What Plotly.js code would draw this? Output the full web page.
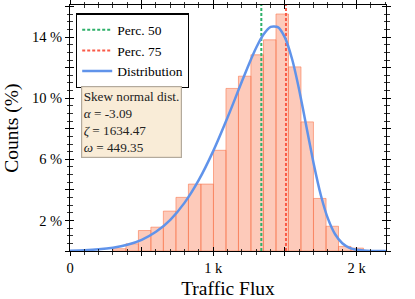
<!DOCTYPE html>
<html>
<head>
<meta charset="utf-8">
<script src="https://cdn.plot.ly/plotly-3.0.1.min.js"></script>
<style>html,body{margin:0;padding:0;background:#fff;}#chart{width:415px;height:299px;}</style>
</head>
<body>
<div id="chart"></div>
<script>
// Histogram (density scaled to %), bin centers and heights
const binCenters = [346, 434, 521, 608, 695, 783, 870, 957, 1045, 1132, 1219, 1306, 1394, 1481, 1568, 1655, 1743, 1830, 1917, 2004];
const binHeights = [0.15, 0.47, 1.34, 1.56, 2.61, 3.51, 4.38, 4.38, 6.59, 10.64, 11.44, 12.84, 13.82, 15.51, 12.05, 8.45, 3.44, 1.62, 0.3, 0.19];
const binWidth = 87.3;

// Fitted distribution curve points
const curveX = [0, 100, 200, 300, 400, 500, 600, 700, 800, 900, 1000, 1100, 1150, 1200, 1250, 1300, 1350, 1400, 1450, 1500, 1550, 1600, 1650, 1700, 1750, 1800, 1850, 1900, 1950, 2000, 2050, 2100, 2205];
const curveY = [0.024, 0.052, 0.109, 0.216, 0.408, 0.733, 1.255, 2.043, 3.166, 4.668, 6.552, 8.750, 9.925, 11.110, 12.262, 13.316, 14.165, 14.668, 14.649, 13.964, 12.549, 10.510, 8.120, 5.730, 3.667, 2.115, 1.095, 0.506, 0.208, 0.076, 0.025, 0.007, 0.001];

// Percentiles
const percNames = ['Perc. 50', 'Perc. 75'];
const percValues = [1335, 1507];

// Fit parameters
const paramTitle = 'Skew normal dist.';
const paramSymbols = ['α', 'ζ', 'ω'];
const paramValues = ['-3.09', '1634.47', '449.35'];

// Ticks
const xTickVals = [0, 500, 1000, 1500, 2000];
const xTickText = ['0', '', '1 k', '', '2 k'];
const yTickVals = [0, 2, 4, 6, 8, 10, 12, 14, 16];
const yTickText = ['', '2 %', '', '6 %', '', '10 %', '', '14 %', ''];

const xRange = [0, 2205];
const yRange = [0, 16.1];

const FONT = 'Liberation Serif';

const traces = [
  {
    type: 'bar', x: binCenters, y: binHeights, width: binWidth,
    marker: {color: 'rgba(250,128,90,0.42)', line: {color: 'rgba(248,120,80,0.6)', width: 1}},
    showlegend: false, hoverinfo: 'skip'
  },
  {
    type: 'scatter', mode: 'lines', name: percNames[0],
    x: [percValues[0], percValues[0]], y: yRange,
    line: {color: '#2eb06a', width: 2, dash: '3px,2px'}
  },
  {
    type: 'scatter', mode: 'lines', name: percNames[1],
    x: [percValues[1], percValues[1]], y: yRange,
    line: {color: '#fa5a48', width: 2, dash: '3px,2px'}
  },
  {
    type: 'scatter', mode: 'lines', name: 'Distribution',
    x: curveX, y: curveY,
    line: {color: '#6093ea', width: 2.5, shape: 'spline', smoothing: 0.6}
  },
  { type: 'scatter', mode: 'none', x: [], y: [], xaxis: 'x2', yaxis: 'y2', showlegend: false, hoverinfo: 'skip' }
];

const tickCommon = {tickcolor: '#000', tickwidth: 1, showgrid: false, zeroline: false};

const layout = {
  width: 415, height: 299,
  margin: {l: 70, r: 29, t: 5, b: 48},
  paper_bgcolor: '#fff', plot_bgcolor: '#fff',
  font: {family: FONT, color: '#000', size: 14},
  bargap: 0,
  showlegend: true,
  legend: {
    x: 0.019, y: 0.966, xanchor: 'left', yanchor: 'top',
    bgcolor: '#fff', bordercolor: '#000', borderwidth: 1.2,
    font: {family: FONT, size: 13.5, color: '#000'},
    tracegroupgap: 0, itemwidth: 30
  },
  xaxis: Object.assign({}, tickCommon, {
    range: xRange, tickmode: 'array', tickvals: xTickVals, ticktext: xTickText,
    ticks: 'outside', ticklen: 4, mirror: 'ticks', showline: true, linecolor: '#000', linewidth: 1,
    minor: {tickmode: 'linear', tick0: 0, dtick: 100, ticks: 'outside', ticklen: 2.5, tickcolor: '#000', tickwidth: 0.8},
    tickfont: {family: FONT, size: 14.5},
    title: {text: 'Traffic Flux', font: {family: FONT, size: 19.5}, standoff: 6}
  }),
  yaxis: Object.assign({}, tickCommon, {
    range: yRange, tickmode: 'array', tickvals: yTickVals, ticktext: yTickText,
    ticks: 'outside', ticklen: 4, mirror: 'ticks', showline: true, linecolor: '#000', linewidth: 1,
    minor: {tickmode: 'linear', tick0: 0, dtick: 0.5, ticks: 'outside', ticklen: 2.5, tickcolor: '#000', tickwidth: 0.8},
    tickfont: {family: FONT, size: 14.5}
  }),
  xaxis2: Object.assign({}, tickCommon, {
    overlaying: 'x', anchor: 'y2', side: 'bottom',
    range: xRange, tickmode: 'array', tickvals: xTickVals, showticklabels: false,
    ticks: 'inside', ticklen: 4, mirror: 'ticks', showline: false,
    minor: {tickmode: 'linear', tick0: 0, dtick: 100, ticks: 'inside', ticklen: 2.5, tickcolor: '#000', tickwidth: 0.8}
  }),
  yaxis2: Object.assign({}, tickCommon, {
    overlaying: 'y', anchor: 'x2', side: 'left',
    range: yRange, tickmode: 'array', tickvals: yTickVals, showticklabels: false,
    ticks: 'inside', ticklen: 4, mirror: 'ticks', showline: false,
    minor: {tickmode: 'linear', tick0: 0, dtick: 0.5, ticks: 'inside', ticklen: 2.5, tickcolor: '#000', tickwidth: 0.8}
  }),
  annotations: [
    {
      xref: 'paper', yref: 'paper', x: 0.035, y: 0.669, xanchor: 'left', yanchor: 'top',
      align: 'left', showarrow: false,
      text: paramTitle + '<br>' + paramSymbols.map((s, i) => '<i>' + s + '</i> = ' + paramValues[i]).join('<br>'),
      font: {family: FONT, size: 13.2, color: '#222'},
      bgcolor: '#f9ecd7', bordercolor: '#b3aa9c', borderwidth: 1.2, borderpad: 1.5
    },
    {
      xref: 'paper', yref: 'paper', x: -0.184, y: 0.5, xanchor: 'center', yanchor: 'middle',
      showarrow: false, textangle: -90,
      text: 'Counts (%)', font: {family: FONT, size: 19.5, color: '#000'}
    }
  ]
};

Plotly.newPlot('chart', traces, layout, {staticPlot: true, displayModeBar: false});
</script>
</body>
</html>
